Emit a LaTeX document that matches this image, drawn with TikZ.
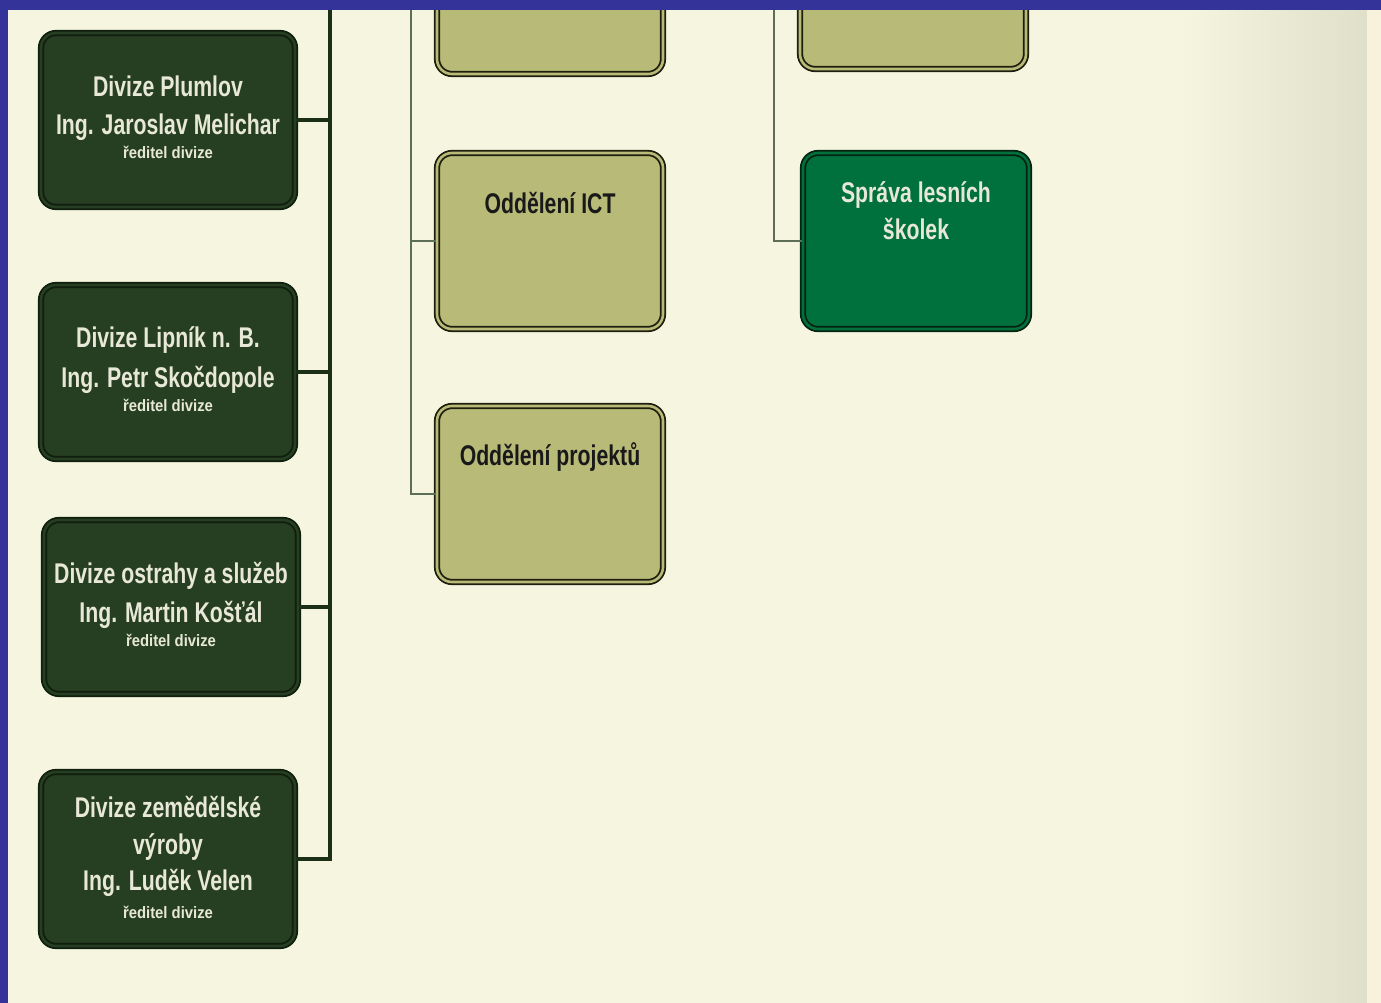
\documentclass[tikz,border=0pt]{standalone}
\usepackage{fontspec}
\usetikzlibrary{shadows}
\newfontfamily\cf[FakeStretch=0.745]{Liberation Sans}
\newfontfamily\cfsmall[FakeStretch=0.9]{Liberation Sans}
\definecolor{bgc}{RGB}{245,245,224}
\definecolor{bgdark}{RGB}{224,224,202}
\definecolor{bgstrip}{RGB}{248,242,220}
\definecolor{frameblue}{RGB}{52,51,153}
\definecolor{darkfill}{RGB}{38,62,33}
\definecolor{darkline}{RGB}{16,30,14}
\definecolor{olivefill}{RGB}{184,186,120}
\definecolor{oliveline}{RGB}{30,30,14}
\definecolor{greenfill}{RGB}{0,112,60}
\definecolor{greenline}{RGB}{6,34,16}
\definecolor{lighttext}{RGB}{232,232,216}
\definecolor{thinline}{RGB}{92,110,86}
\definecolor{thickline}{RGB}{27,48,22}
\tikzset{
  boxbase/.style={draw, line width=1.8pt, double distance=2.6pt, rounded corners=15pt,
    inner sep=0pt, minimum width=#1, minimum height=174pt,
    drop shadow={shadow xshift=1pt, shadow yshift=-2pt, opacity=0.25, fill=black}},
  darkbox/.style={boxbase=254pt, draw=darkline, double=darkfill, fill=darkfill},
  olivebox/.style={boxbase=226pt, minimum height=176pt, draw=oliveline, double=olivefill, fill=olivefill},
  greenbox/.style={boxbase=226pt, minimum height=176pt, draw=greenline, double=greenfill, fill=greenfill},
  bigtxt/.style={anchor=base, inner sep=0pt, font=\cf\bfseries\fontsize{28.5}{34}\selectfont},
  smalltxt/.style={anchor=base, inner sep=0pt, font=\cfsmall\bfseries\fontsize{16.5}{20}\selectfont},
  lt/.style={text=lighttext},
  dt/.style={text=black!90},
  thickconn/.style={draw=thickline, line width=4.5pt},
  thinconn/.style={draw=thinline, line width=2pt},
}
\begin{document}
\begin{tikzpicture}[x=1pt,y=-1pt]
\useasboundingbox (0,0) rectangle (1381,1003);
% background
\fill[bgc] (0,0) rectangle (1381,1003);
\shade[left color=bgc, right color=bgdark] (1180,0) rectangle (1367,1003);
\fill[bgstrip] (1367,0) rectangle (1381,1003);

% coordinates for connector tops
\coordinate (top1) at (330,0);
\coordinate (top2) at (411,0);
\coordinate (top3) at (774,0);

% left division boxes
\node[darkbox] (b1) at (168,120) {};
\node[darkbox] (b2) at (168,372) {};
\node[darkbox] (b3) at (171,607) {};
\node[darkbox] (b4) at (168,859) {};

% middle boxes
\node[olivebox] (m0) at (550,-14) {};
\node[olivebox] (ict) at (550,241) {};
\node[olivebox] (proj) at (550,494) {};

% right boxes
\node[olivebox] (r0) at (913,-19) {};
\node[greenbox] (sls) at (916,241) {};

% connectors
\draw[thickconn] (top1) |- (b4.east);
\draw[thickconn] (b1.east) -- (b1.east -| top1);
\draw[thickconn] (b2.east) -- (b2.east -| top1);
\draw[thickconn] (b3.east) -- (b3.east -| top1);
\draw[thinconn] (top2) |- (proj.west);
\draw[thinconn] (ict.west) -- (ict.west -| top2);
\draw[thinconn] (top3) |- (sls.west);

% texts
\node[bigtxt,lt] (t1a) at (168,97) {Divize Plumlov};
\node[bigtxt,lt] (t1b) at (168,135) {Ing. Jaroslav Melichar};
\node[smalltxt,lt] (t1c) at (168,159) {ředitel divize};

\node[bigtxt,lt] (t2a) at (168,347) {Divize Lipník n. B.};
\node[bigtxt,lt] (t2b) at (168,387) {Ing. Petr Skočdopole};
\node[smalltxt,lt] (t2c) at (168,411) {ředitel divize};

\node[bigtxt,lt] (t3a) at (171,583) {Divize ostrahy a služeb};
\node[bigtxt,lt] (t3b) at (171,622) {Ing. Martin Košťál};
\node[smalltxt,lt] (t3c) at (171,646) {ředitel divize};

\node[bigtxt,lt] (t4a) at (168,817) {Divize zemědělské};
\node[bigtxt,lt] (t4b) at (168,854) {výroby};
\node[bigtxt,lt] (t4c) at (168,890) {Ing. Luděk Velen};
\node[smalltxt,lt] (t4d) at (168,918) {ředitel divize};

\node[bigtxt,dt] (t5) at (550,214) {Oddělení ICT};
\node[bigtxt,dt] (t6) at (550,465) {Oddělení projektů};

\node[bigtxt,lt] (t7a) at (916,203) {Správa lesních};
\node[bigtxt,lt] (t7b) at (916,239) {školek};

% frame
\fill[frameblue] (0,0) rectangle (1381,10);
\fill[frameblue] (0,0) rectangle (8,1003);
\end{tikzpicture}
\end{document}
